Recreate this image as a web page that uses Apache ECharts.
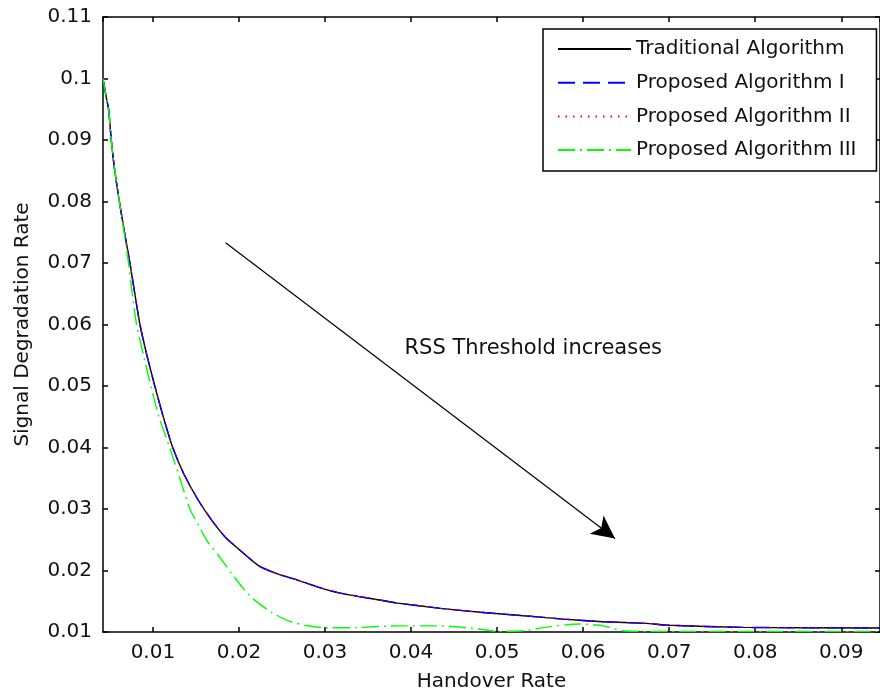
<!DOCTYPE html>
<html>
<head>
<meta charset="utf-8">
<script src="https://cdn.jsdelivr.net/npm/echarts@6/dist/echarts.min.js"></script>
<style>html,body{margin:0;padding:0;background:#fff;}#chart{width:880px;height:697px;}</style>
</head>
<body>
<div id="chart"></div>
<script>
// ---- data ----
const seriesNames = ['Traditional Algorithm', 'Proposed Algorithm I', 'Proposed Algorithm II', 'Proposed Algorithm III'];

const xMain = [0.0042, 0.00456, 0.00486, 0.00514, 0.0055, 0.0061, 0.0067, 0.00733, 0.0079, 0.00849,
  0.0093, 0.01022, 0.0112, 0.0123, 0.0136, 0.01533, 0.01687, 0.01842, 0.01995, 0.02226,
  0.02457, 0.02688, 0.02919, 0.0315, 0.03381, 0.03612, 0.03843, 0.04343, 0.04805, 0.05306,
  0.05768, 0.0623, 0.0673, 0.0700, 0.07846, 0.0945];
const yTraditional = [0.1000, 0.0971, 0.0949, 0.0903, 0.0857, 0.0800, 0.0750, 0.0700, 0.0650, 0.0600,
  0.0550, 0.0500, 0.0450, 0.0400, 0.0357, 0.0313, 0.0281, 0.0254, 0.0235, 0.0208,
  0.0194, 0.0184, 0.0173, 0.0164, 0.0158, 0.01525, 0.0147, 0.01385, 0.0132, 0.01265,
  0.0121, 0.01167, 0.0114, 0.0111, 0.01076, 0.01065];
const yProposedI = [0.1000, 0.0971, 0.0949, 0.0903, 0.0857, 0.0800, 0.0750, 0.0700, 0.0650, 0.0600,
  0.0550, 0.0500, 0.0450, 0.0400, 0.0357, 0.0313, 0.0281, 0.0254, 0.0235, 0.0208,
  0.0194, 0.0184, 0.0173, 0.0164, 0.0158, 0.01525, 0.0147, 0.01385, 0.0132, 0.01265,
  0.0121, 0.01167, 0.0114, 0.0111, 0.01076, 0.01065];
const yProposedII = [0.1000, 0.0971, 0.0949, 0.0903, 0.0857, 0.0800, 0.0750, 0.0700, 0.0650, 0.0600,
  0.0550, 0.0500, 0.0450, 0.0400, 0.0357, 0.0313, 0.0281, 0.0254, 0.0235, 0.0208,
  0.0194, 0.0184, 0.0173, 0.0164, 0.0158, 0.01525, 0.0147, 0.01385, 0.0132, 0.01265,
  0.0121, 0.01167, 0.0114, 0.0111, 0.01076, 0.01065];

const xProposedIII = [0.0042, 0.00456, 0.00486, 0.00514, 0.0055, 0.0061, 0.00665, 0.00717, 0.0076, 0.0081,
  0.0089, 0.00976, 0.0107, 0.01195, 0.01341, 0.01438, 0.01533, 0.01629, 0.01764, 0.0192,
  0.02073, 0.02188, 0.0238, 0.02573, 0.02766, 0.02996, 0.0330, 0.03843, 0.0434, 0.0481,
  0.0500, 0.0531, 0.0557, 0.0596, 0.0623, 0.0646, 0.0692, 0.0785, 0.0945];
const yProposedIII = [0.1000, 0.0971, 0.0949, 0.0903, 0.0857, 0.0800, 0.0750, 0.0700, 0.0650, 0.0600,
  0.0550, 0.0500, 0.0450, 0.0400, 0.0338, 0.0297, 0.0273, 0.0248, 0.0224, 0.0194,
  0.0167, 0.0151, 0.0132, 0.0118, 0.0111, 0.0107, 0.0107, 0.0110, 0.0110, 0.01045,
  0.0101, 0.0102, 0.0108, 0.0113, 0.0110, 0.0102, 0.0101, 0.0101, 0.0101];

const xRange = [0.0042, 0.0945];
const yTicks = [0.01, 0.11, 0.01]; // min, max, step
const xTickStep = 0.01;

const xAxisTitle = 'Handover Rate';
const yAxisTitle = 'Signal Degradation Rate';
const annotationText = 'RSS Threshold increases';
const arrowStart = [0.01845, 0.0733];
const arrowEnd = [0.0637, 0.0252];
const annotationPos = [0.0542, 0.0561];

// ---- chart ----
const FONT = 'DejaVu Sans';
function pairs(xs, ys) { return xs.map((x, i) => [x, ys[i]]); }

const chart = echarts.init(document.getElementById('chart'), null, { renderer: 'canvas' });

function xLabelFmt(v) {
  const k = Math.round(v / xTickStep);
  if (Math.abs(v - k * xTickStep) > 1e-9) return '';
  return String(+(k * xTickStep).toFixed(4));
}
function yLabelFmt(v) { return String(+v.toFixed(4)); }

const axisCommon = {
  axisLine: { show: true, onZero: false, lineStyle: { color: '#000', width: 1.5 } },
  axisTick: { show: true, inside: true, length: 5, lineStyle: { color: '#000', width: 1.5 } },
  splitLine: { show: false }
};

function lineSeries(name, data, color, type) {
  return {
    name: name, type: 'line', xAxisIndex: 0, yAxisIndex: 0,
    data: data, symbol: 'none', showSymbol: false,
    smooth: 0.2,
    lineStyle: { color: color, width: 1.4, type: type },
    itemStyle: { color: color }
  };
}

const sTrad = lineSeries(seriesNames[0], pairs(xMain, yTraditional), '#000000', 'solid');
sTrad.markLine = {
  silent: true, symbol: ['none', 'arrow'], symbolSize: [17, 23],
  label: { show: false },
  lineStyle: { color: '#000', width: 1.2, type: 'solid' },
  data: [[{ coord: arrowStart }, { coord: arrowEnd }]]
};
sTrad.markPoint = {
  silent: true, symbol: 'circle', symbolSize: 1, itemStyle: { color: 'rgba(0,0,0,0)' },
  label: { show: true, position: 'inside', formatter: annotationText, fontFamily: FONT, fontSize: 21, color: '#111' },
  data: [{ coord: annotationPos }]
};

const option = {
  animation: false,
  backgroundColor: '#fff',
  textStyle: { fontFamily: FONT },
  grid: { left: 103, right: -3, top: 17, bottom: 64, containLabel: false },
  legend: {
    orient: 'vertical',
    left: 543, top: 29,
    itemWidth: 73, itemHeight: 20, itemGap: 13.7,
    padding: [10, 20, 11, 14],
    backgroundColor: '#fff',
    borderColor: '#000', borderWidth: 1.5,
    selectedMode: false,
    itemStyle: { opacity: 0 },
    textStyle: { fontFamily: FONT, fontSize: 20, color: '#111' },
    data: seriesNames
  },
  xAxis: [
    Object.assign({
      type: 'value', position: 'bottom', min: xRange[0], max: xRange[1], splitNumber: 9,
      name: xAxisTitle, nameLocation: 'middle', nameGap: 40,
      nameTextStyle: { fontFamily: FONT, fontSize: 20, color: '#111' },
      axisLabel: { formatter: xLabelFmt, margin: 11, fontFamily: FONT, fontSize: 20, color: '#111', showMinLabel: false, showMaxLabel: false }
    }, axisCommon),
    Object.assign({
      type: 'value', position: 'top', min: xRange[0], max: xRange[1], splitNumber: 9,
      axisLabel: { show: false }
    }, axisCommon)
  ],
  yAxis: [
    Object.assign({
      type: 'value', position: 'left', min: yTicks[0], max: yTicks[1], interval: yTicks[2],
      name: yAxisTitle, nameLocation: 'middle', nameGap: 70,
      nameTextStyle: { fontFamily: FONT, fontSize: 20, color: '#111' },
      axisLabel: { formatter: yLabelFmt, margin: 11, fontFamily: FONT, fontSize: 20, color: '#111' }
    }, axisCommon),
    Object.assign({
      type: 'value', position: 'right', min: yTicks[0], max: yTicks[1], interval: yTicks[2],
      axisLabel: { show: false }
    }, axisCommon)
  ],
  series: [
    sTrad,
    lineSeries(seriesNames[1], pairs(xMain, yProposedI), '#0000ff', [17, 8]),
    lineSeries(seriesNames[2], pairs(xMain, yProposedII), '#ff0000', [1.5, 6]),
    lineSeries(seriesNames[3], pairs(xProposedIII, yProposedIII), '#00ff00', [17, 5, 2, 5])
  ]
};
chart.setOption(option);
</script>
</body>
</html>
